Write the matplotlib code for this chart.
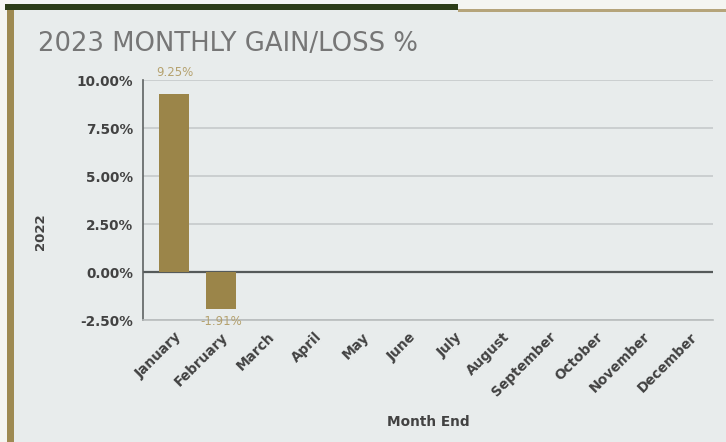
import matplotlib
matplotlib.use("Agg")
import matplotlib.pyplot as plt
from matplotlib.patches import Rectangle
from matplotlib.ticker import FuncFormatter

# monthly gain/loss in percent (only the months reported so far)
months = ['January', 'February', 'March', 'April', 'May', 'June', 'July',
          'August', 'September', 'October', 'November', 'December']
gains = [9.25, -1.91]
y_ticks = [-2.5, 0.0, 2.5, 5.0, 7.5, 10.0]

BAR = '#9b8549'
LABEL = '#b5a26f'
PANEL = '#e8ecec'
TEXT = '#424242'

fig = plt.figure(figsize=(7.26, 4.42), dpi=100)
fig.patch.set_facecolor('#f4f5f1')

# panel frame: light body, dark green top rule, tan left rule
fig.patches.append(Rectangle((13 / 726, 0), 1, 1 - 10 / 442, transform=fig.transFigure,
                             facecolor=PANEL, edgecolor='none', zorder=-3))
fig.patches.append(Rectangle((5 / 726, 1 - 10 / 442), 453 / 726, 6 / 442,
                             transform=fig.transFigure, facecolor='#2c3d16',
                             edgecolor='none', zorder=-2))
fig.patches.append(Rectangle((458 / 726, 1 - 12 / 442), 1, 3 / 442,
                             transform=fig.transFigure, facecolor='#b5a47a',
                             edgecolor='none', zorder=-2))
fig.patches.append(Rectangle((7 / 726, 0), 7 / 726, 1 - 10 / 442,
                             transform=fig.transFigure, facecolor='#9e8a52',
                             edgecolor='none', zorder=-2))

fig.text(38 / 726, 1 - 44 / 442, '2023 MONTHLY GAIN/LOSS %', color='#767676',
         fontsize=18.6, va='center')

ax = fig.add_axes([143 / 726, 1 - 320 / 442, 570 / 726, 240 / 442])
ax.set_facecolor('none')

x = list(range(len(months)))
bars = ax.bar(x[:len(gains)], gains, width=0.64, color=BAR, zorder=3)

for rect, v in zip(bars, gains):
    cx = rect.get_x() + rect.get_width() / 2
    if v >= 0:
        ax.annotate(f'{v:.2f}%', (cx, v), xytext=(0, 11), textcoords='offset points',
                    ha='center', va='bottom', fontsize=8.5, color=LABEL)
    else:
        ax.annotate(f'{v:.2f}%', (cx, v), xytext=(0, -9), textcoords='offset points',
                    ha='center', va='center', fontsize=8.5, color=LABEL, zorder=4)

ax.set_xlim(-0.67, len(months) - 0.5)
ax.set_ylim(y_ticks[0], y_ticks[-1])
ax.set_yticks(y_ticks)
ax.yaxis.set_major_formatter(FuncFormatter(lambda v, _: f'{v:.2f}%'))
ax.set_xticks(x)
ax.set_xticklabels(months, rotation=45, ha='right', rotation_mode='anchor')

ax.grid(axis='y', color='#c6cacb', linewidth=1.2, zorder=0)
ax.axhline(0, color='#555a5a', linewidth=1.6, zorder=2)
for side in ['top', 'right']:
    ax.spines[side].set_visible(False)
ax.spines['left'].set_color('#5e6262')
ax.spines['left'].set_linewidth(1.2)
ax.spines['bottom'].set_color('#b8bcbd')
ax.spines['bottom'].set_linewidth(1.2)
ax.tick_params(axis='both', length=0, colors=TEXT, labelsize=9.8)
ax.tick_params(axis='y', pad=7)
ax.tick_params(axis='x', pad=7)
for lbl in ax.get_xticklabels() + ax.get_yticklabels():
    lbl.set_fontweight('bold')

ax.set_ylabel('2022', fontsize=9.5, color=TEXT, fontweight='bold')
ax.yaxis.set_label_coords(-0.168, 0.367)
ax.set_xlabel('Month End', fontsize=9.8, color=TEXT, fontweight='bold')
ax.xaxis.set_label_coords(0.5, -0.395)

fig.savefig('out.png', dpi=100, facecolor=fig.get_facecolor())
